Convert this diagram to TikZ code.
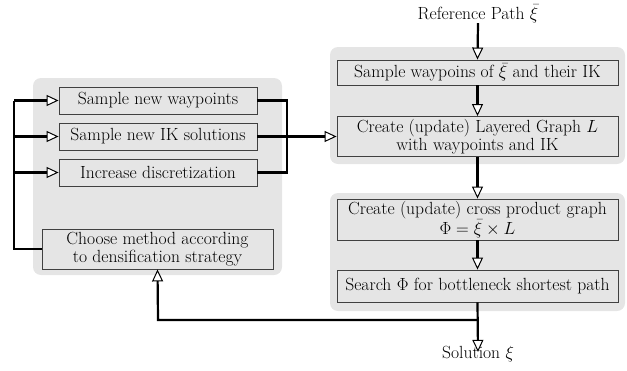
\RequirePackage{fix-cm}
\documentclass[tikz,border=0pt]{standalone}
\usetikzlibrary{arrows.meta}
\begin{document}
\begin{tikzpicture}[x=1pt,y=-1pt,
  every node/.style={font=\fontsize{17.6}{18.5}\selectfont},
  bgbox/.style={fill=black!10, rounded corners=8pt},
  pbox/.style={draw=black!75, line width=0.9pt, fill=black!10, align=center, inner sep=0pt},
  conn/.style={line width=2.2pt},
  arr/.style={line width=2.2pt, -{Triangle[open, fill=white, line width=1pt, length=12pt, width=11pt]}},
  lbl/.style={inner sep=0pt}
]
\useasboundingbox (0,0) rectangle (627,370);
% backgrounds
\fill[bgbox] (33,78) rectangle (282,275);
\fill[bgbox] (330,47) rectangle (625,164);
\fill[bgbox] (330,193) rectangle (625,311);
% left boxes
\node[pbox, minimum width=198pt, minimum height=27pt] (w1) at (158,100.5) {Sample new waypoints};
\node[pbox, minimum width=198pt, minimum height=27pt] (w2) at (158,136.5) {Sample new IK solutions};
\node[pbox, minimum width=198pt, minimum height=27pt] (w3) at (158,172.5) {Increase discretization};
\node[pbox, minimum width=231pt, minimum height=40pt] (ch) at (157.5,249) {Choose method according\\to densification strategy};
% right boxes
\node[pbox, minimum width=281pt, minimum height=25pt] (s1) at (477.5,72.5) {Sample waypoins of $\bar{\xi}$ and their IK};
\node[pbox, minimum width=281pt, minimum height=40pt] (s2) at (477.5,136.5) {Create (update) Layered Graph $L$\\with waypoints and IK};
\node[pbox, minimum width=281pt, minimum height=41pt] (s3) at (477.5,219.5) {Create (update) cross product graph\\$\Phi=\bar{\xi}\times L$};
\node[pbox, minimum width=281pt, minimum height=32pt] (s4) at (477.5,286) {Search $\Phi$ for bottleneck shortest path};
% labels
\node[lbl] (ref) at (478,14) {Reference Path $\bar{\xi}$};
\node[lbl] (sol) at (478,354) {Solution $\xi$};
% coordinates
\coordinate (br) at (478,320);
\coordinate (bl) at (158,320);
\coordinate (lt) at (14,100.5);
\coordinate (lm) at (14,136.5);
\coordinate (ll) at (14,172.5);
\coordinate (lb) at (14,249);
\coordinate (rt) at (287,100.5);
\coordinate (rb) at (287,172.5);
% connectors
\draw[arr] (ref.south) -- (s1.north);
\draw[arr] (s1.south) -- (s2.north);
\draw[arr] (s2.south) -- (s3.north);
\draw[arr] (s3.south) -- (s4.north);
\draw[arr] (s4.south) -- ([yshift=-6pt]sol.north);
\draw[arr] (br) -- (bl) -- (ch.south);
\draw[conn] (ch.west) -- (lb) -- (lt);
\draw[arr] (lt) -- (w1.west);
\draw[arr] (lm) -- (w2.west);
\draw[arr] (ll) -- (w3.west);
\draw[conn] (w1.east) -- (rt) -- (rb) -- (w3.east);
\draw[arr] (w2.east) -- (s2.west);
\end{tikzpicture}
\end{document}
